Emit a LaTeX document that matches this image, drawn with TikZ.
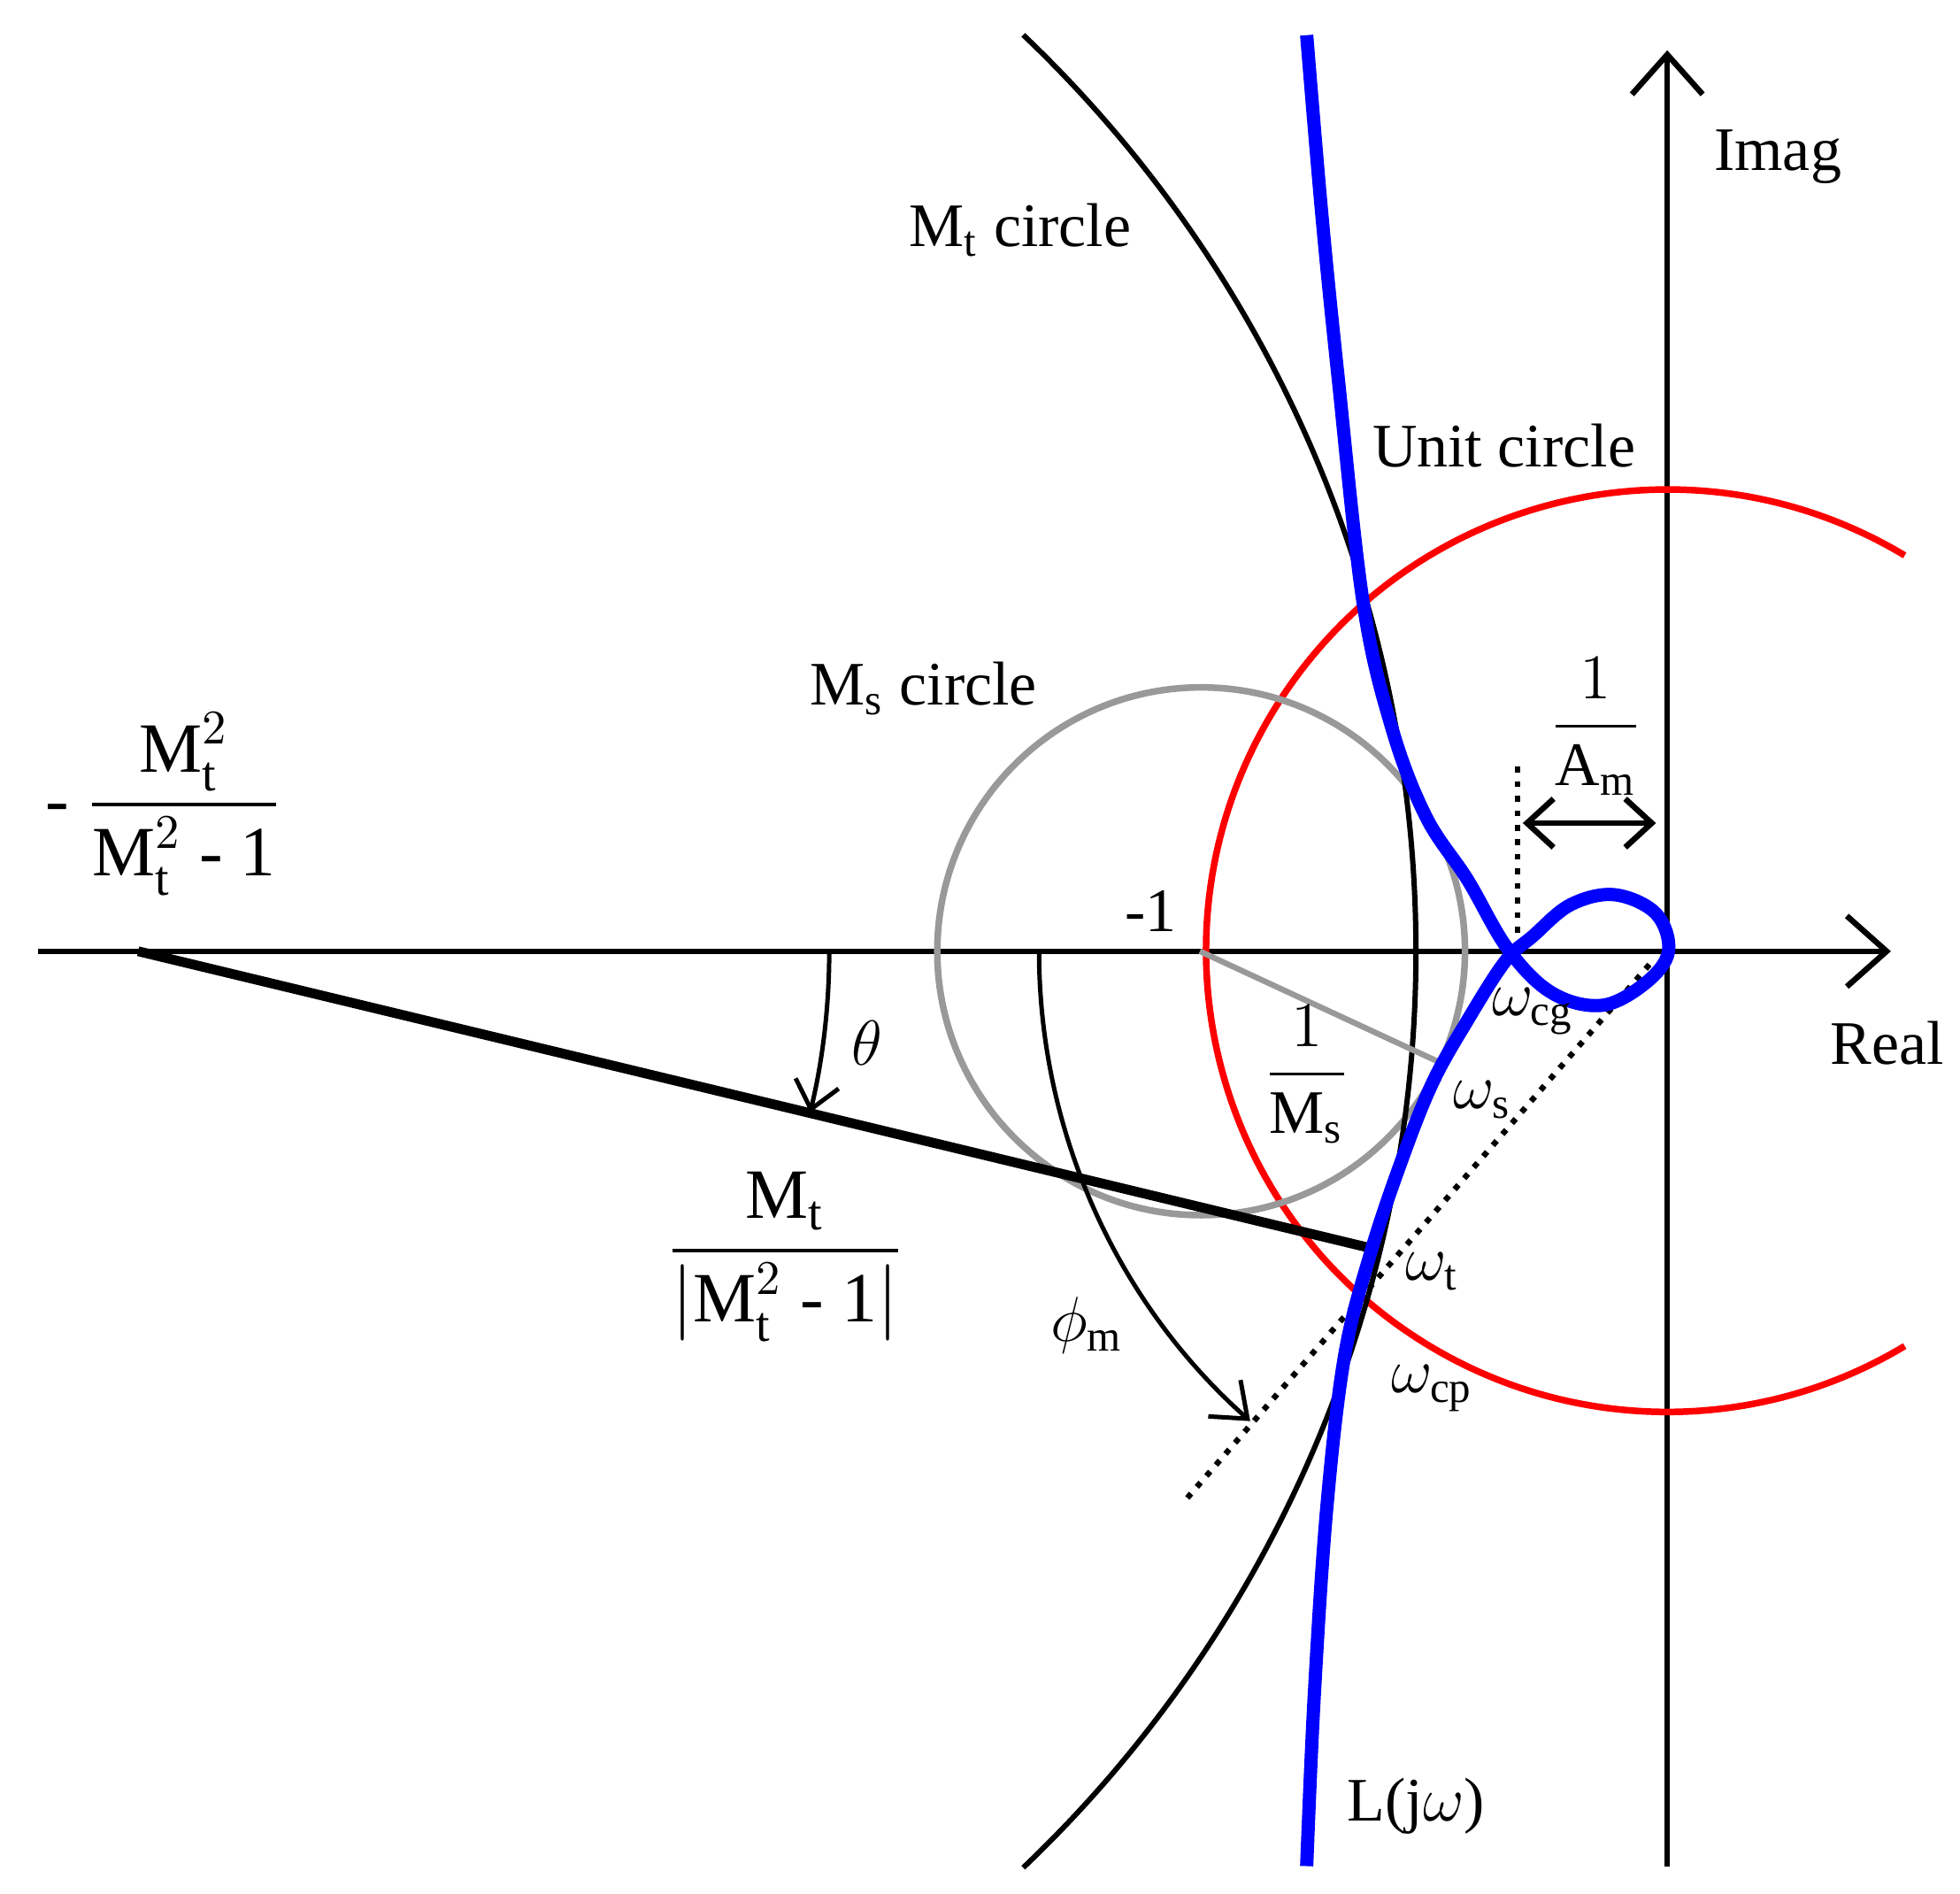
\documentclass[tikz,border=0pt]{standalone}
\usepackage{fontspec}
\setmainfont{Liberation Serif}
\usepackage{amsmath}
\usetikzlibrary{arrows.meta}
\tikzset{
  lbl/.style={font=\fontsize{14}{16}\selectfont, inner sep=1pt},
  bigfrac/.style={font=\fontsize{16}{19}\selectfont, inner sep=1pt},
  axis/.style={line width=1.3pt, -{Straight Barb[length=9pt,width=16pt,line width=1.3pt]}},
}
\begin{document}
\begin{tikzpicture}[x=0.01cm,y=-0.01cm]
    \useasboundingbox (0,0) rectangle (1560,1507);

    % axes
    \draw[axis] (30,757) -- (1505,757);
    \draw[axis] (1327,1485) -- (1327,40);
    \node[lbl] (imag) at (1415,125) {Imag};
    \node[lbl] (real) at (1502,830) {Real};

    % circles
    \draw[red, line width=1.5pt] (1516,442) arc[start angle=-59, end angle=-301, radius=367];
    \draw[gray!80, line width=1.5pt] (956,757) circle [radius=210];
    \draw[line width=1.2pt] (120,757) ++(46.4:1007 and -1007) arc[start angle=46.4, end angle=-46.4, x radius=1007, y radius=-1007];

    % radius lines
    \draw[gray!80, line width=1.3pt] (955,757) -- (1145,845);
    \draw[line width=2.2pt] (110,757) -- (1090,993);
    \draw[dotted, line width=1.3pt] (945,1192) -- (1315,765);
    \draw[dotted, line width=1.3pt] (1208,610) -- (1208,760);
    \draw[line width=1.3pt, {Straight Barb[length=6pt,width=11pt]}-{Straight Barb[length=6pt,width=11pt]}] (1212,655) -- (1318,655);

    % angles
    \draw[line width=1pt, -{Straight Barb[length=6pt,width=10pt]}] (660,757) arc[start angle=0, end angle=13.5, radius=550];
    \draw[line width=1pt, -{Straight Barb[length=7pt,width=11pt]}] (827,757) arc[start angle=180, end angle=131.6, radius=500];

    % L(jw)
    \draw[blue, line width=3pt, line join=round] plot[smooth, tension=0.6] coordinates {
      (1040,28) (1052,170) (1065,300) (1085,480) (1108,580) (1135,650) (1168,700)
      (1200,755) (1235,790) (1275,800) (1310,782) (1328,757) (1318,727) (1285,712)
      (1250,720) (1220,745) (1198,765) (1168,812) (1140,862) (1115,925) (1090,1000)
      (1070,1080) (1056,1200) (1046,1350) (1040,1485)};

    % labels
    \node[lbl] (mt) at (812,183) {M$_\text{t}$ circle};
    \node[lbl] (unit) at (1197,355) {Unit circle};
    \node[lbl] (ms) at (735,548) {M$_\text{s}$ circle};
    \node[lbl] (mone) at (916,725) {-1};
    \node[lbl] (theta) at (690,830) {$\theta$};
    \node[lbl] (phim) at (865,1055) {$\phi_\text{m}$};
    \node[lbl] (wcg) at (1220,805) {$\omega_\text{cg}$};
    \node[lbl] (ws) at (1180,875) {$\omega_\text{s}$};
    \node[lbl] (wt) at (1140,1012) {$\omega_\text{t}$};
    \node[lbl] (wcp) at (1140,1105) {$\omega_\text{cp}$};
    \node[lbl] (ljw) at (1127,1437) {L(j$\omega$)};
    \node[lbl] (am) at (1270,578) {$\dfrac{1}{\text{A}_\text{m}}$};
    \node[lbl] (msr) at (1040,855) {$\dfrac{1}{\text{M}_\text{s}}$};
    \node[bigfrac] (rad) at (625,1000) {$\dfrac{\text{M}_\text{t}}{\left|\text{M}_\text{t}^2\text{ - 1}\right|}$};
    \node[bigfrac] (cen) at (130,640) {- $\dfrac{\text{M}_\text{t}^2}{\text{M}_\text{t}^2\text{ - 1}}$};
\end{tikzpicture}
\end{document}
